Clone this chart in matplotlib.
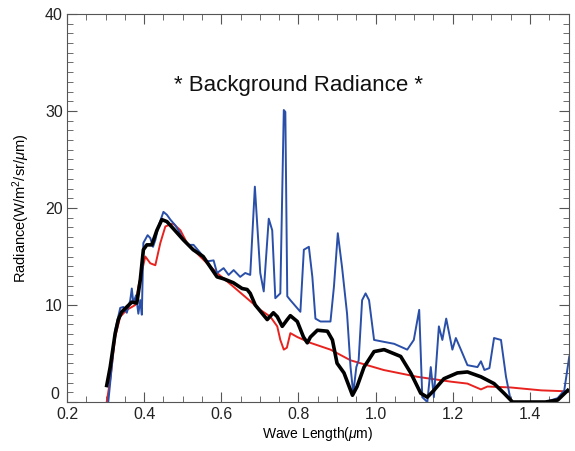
import matplotlib
matplotlib.use("Agg")
import matplotlib.pyplot as plt
from matplotlib.ticker import MultipleLocator, FuncFormatter

plt.rcParams["font.family"] = ["Liberation Sans", "DejaVu Sans"]
plt.rcParams["mathtext.fontset"] = "custom"
plt.rcParams["mathtext.rm"] = "Liberation Sans"
plt.rcParams["mathtext.it"] = "Liberation Sans:italic"

# red curve
red_x = [0.303, 0.312, 0.325, 0.338, 0.355, 0.377, 0.385, 0.403, 0.416, 0.429,
         0.442, 0.455, 0.475, 0.494, 0.511, 0.545, 0.589, 0.631, 0.675, 0.701,
         0.727, 0.745, 0.753, 0.762, 0.770, 0.779, 0.797, 0.831, 0.883, 0.935,
         1.021, 1.108, 1.195, 1.238, 1.273, 1.290, 1.350, 1.430, 1.498]
red_y = [0.0, 2.3, 6.7, 8.8, 9.5, 10.0, 11.9, 15.0, 14.3, 14.1,
         16.4, 18.1, 18.4, 17.7, 16.4, 15.0, 13.3, 11.9, 10.4, 9.5,
         8.8, 7.8, 6.4, 5.4, 5.6, 7.1, 6.7, 6.1, 5.4, 4.3,
         3.3, 2.6, 2.1, 1.9, 1.3, 1.6, 1.5, 1.2, 1.1]

# black curve
black_x = [0.303, 0.312, 0.325, 0.333, 0.342, 0.355, 0.368, 0.381, 0.390, 0.398,
           0.407, 0.420, 0.433, 0.446, 0.459, 0.475, 0.502, 0.527, 0.553, 0.589,
           0.606, 0.631, 0.654, 0.667, 0.675, 0.688, 0.719, 0.735, 0.745, 0.758,
           0.771, 0.779, 0.797, 0.813, 0.823, 0.831, 0.849, 0.875, 0.888, 0.900,
           0.918, 0.940, 0.952, 0.970, 0.996, 1.022, 1.065, 1.091, 1.117, 1.134,
           1.151, 1.177, 1.212, 1.238, 1.273, 1.307, 1.333, 1.355, 1.440, 1.472,
           1.498]
black_y = [1.7, 3.6, 7.1, 8.5, 9.3, 9.8, 10.3, 10.2, 12.6, 15.7,
           16.2, 16.2, 17.7, 18.8, 18.6, 17.9, 16.7, 15.7, 15.0, 12.9,
           12.7, 12.3, 11.7, 11.6, 11.2, 10.0, 8.5, 9.2, 8.8, 7.8,
           8.5, 8.9, 8.3, 6.7, 6.1, 6.7, 7.4, 7.3, 6.4, 4.0,
           3.0, 0.7, 1.6, 3.6, 5.2, 5.4, 4.7, 3.0, 0.9, 0.5,
           1.2, 2.4, 3.0, 3.1, 2.6, 1.9, 0.9, 0.0, 0.0, 0.2,
           1.2]

# blue curve
blue_x = [0.307, 0.316, 0.325, 0.338, 0.346, 0.355, 0.364, 0.368, 0.372, 0.379,
          0.385, 0.390, 0.394, 0.398, 0.409, 0.416, 0.423, 0.429, 0.437, 0.450,
          0.459, 0.468, 0.481, 0.489, 0.502, 0.515, 0.528, 0.545, 0.563, 0.580,
          0.589, 0.606, 0.619, 0.632, 0.649, 0.662, 0.675, 0.687, 0.701, 0.710,
          0.723, 0.732, 0.740, 0.753, 0.762, 0.766, 0.771, 0.779, 0.805, 0.814,
          0.827, 0.836, 0.844, 0.857, 0.883, 0.892, 0.902, 0.913, 0.926, 0.935,
          0.942, 0.950, 0.956, 0.965, 0.974, 0.983, 0.996, 1.048, 1.082, 1.099,
          1.113, 1.121, 1.134, 1.143, 1.151, 1.164, 1.173, 1.183, 1.199, 1.208,
          1.221, 1.238, 1.264, 1.273, 1.282, 1.295, 1.307, 1.325, 1.338, 1.351,
          1.440, 1.472, 1.489, 1.502]
blue_y = [0.0, 3.6, 7.4, 9.7, 9.8, 9.2, 10.5, 11.7, 10.2, 11.0,
          9.1, 10.5, 9.0, 16.4, 17.2, 16.9, 16.0, 16.7, 18.1, 19.6,
          19.3, 18.8, 18.2, 17.7, 16.7, 16.2, 16.2, 15.4, 14.5, 14.6,
          13.3, 13.8, 13.1, 13.6, 12.9, 13.3, 13.1, 22.2, 13.3, 11.4,
          18.9, 17.7, 10.7, 11.2, 30.1, 29.9, 10.9, 10.5, 9.3, 15.7,
          16.0, 12.9, 8.6, 8.3, 8.3, 11.9, 17.4, 13.9, 9.1, 3.6,
          0.9, 3.6, 4.3, 10.5, 11.2, 10.5, 6.4, 6.0, 5.4, 6.4,
          9.5, 0.5, 0.0, 3.6, 0.5, 7.8, 6.4, 8.6, 5.4, 6.6,
          5.4, 3.8, 3.6, 4.2, 3.3, 3.5, 6.6, 6.4, 2.6, 0.0,
          0.0, 0.4, 1.2, 4.7]

fig = plt.figure(figsize=(5.75, 4.51), dpi=100)
ax = fig.add_axes([0.1165, 0.1086, 0.8722, 0.8604])

ax.plot(red_x, red_y, color="#e8231f", linewidth=1.4)
ax.plot(blue_x, blue_y, color="#2a4fa8", linewidth=1.4)
ax.plot(black_x, black_y, color="black", linewidth=2.6)

ax.xaxis.set_major_locator(MultipleLocator(0.2))
ax.xaxis.set_minor_locator(MultipleLocator(0.05))
ax.yaxis.set_major_locator(MultipleLocator(10))
ax.yaxis.set_minor_locator(MultipleLocator(1))
ax.xaxis.set_major_formatter(matplotlib.ticker.FormatStrFormatter("%.1f"))
# the "0" on y is drawn by hand a little higher, so it clears "0.2"
ax.yaxis.set_major_formatter(FuncFormatter(lambda v, p: "" if v == 0 else f"{v:.0f}"))
ax.tick_params(which="both", direction="in", top=True, right=True,
               color="#555555", labelsize=11.5, labelcolor="#222222")
ax.tick_params(which="major", length=7)
ax.tick_params(which="minor", length=4)
ax.tick_params(axis="y", pad=3)
for s in ax.spines.values():
    s.set_color("#555555")

ax.text(-0.016, 0.0, "0", transform=ax.get_yaxis_transform(), ha="right",
        va="bottom", fontsize=11.5, color="#222222")

ax.set_xlabel(r"Wave Length($\mu$m)", fontsize=10, labelpad=2)
ax.set_ylabel(r"Radiance(W/m$^2$/sr/$\mu$m)", fontsize=10.5, labelpad=9)
ax.text(0.8, 32.6, "* Background Radiance *", fontsize=16,
        ha="center", va="center", color="#111111")

ax.set_xlim(0.2, 1.5)
ax.set_ylim(0, 40)

plt.savefig("out.png", dpi=100)
